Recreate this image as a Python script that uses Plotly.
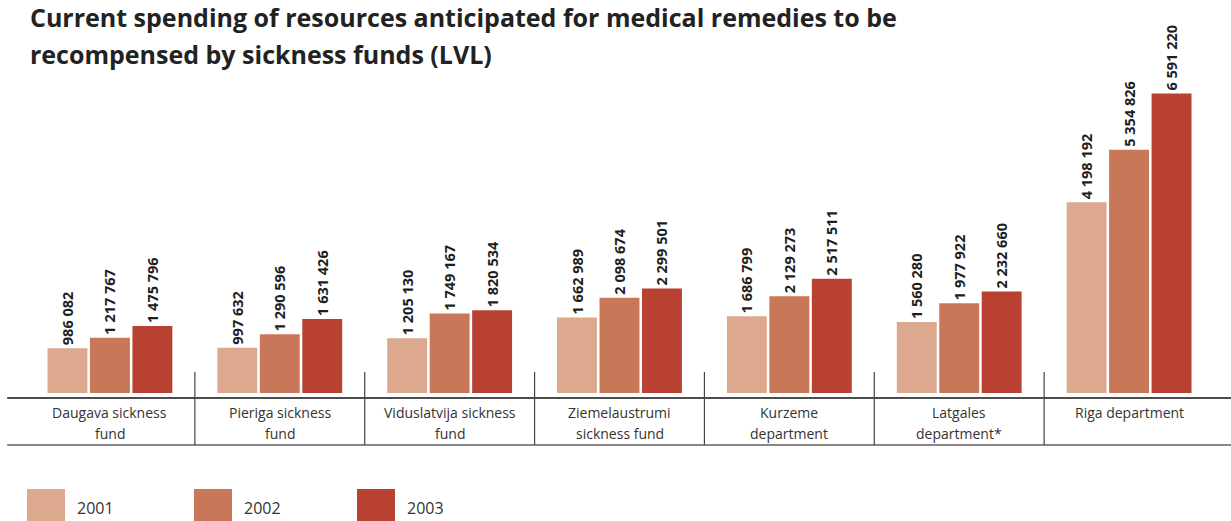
"""
Current spending on medical remedies recompensed by sickness funds
"""
import plotly.graph_objects as go

categories = ["Daugava sickness<br>fund", "Pieriga sickness<br>fund", "Viduslatvija sickness<br>fund",
              "Ziemelaustrumi<br>sickness fund", "Kurzeme<br>department", "Latgales<br>department*",
              "Riga department"]
years = ["2001", "2002", "2003"]
values_2001 = [986082, 997632, 1205130, 1662989, 1686799, 1560280, 4198192]
values_2002 = [1217767, 1290596, 1749167, 2098674, 2129273, 1977922, 5354826]
values_2003 = [1475796, 1631426, 1820534, 2299501, 2517511, 2232660, 6591220]
colors = ["#DCA98F", "#C97759", "#B94131"]

title_lines = ["Current spending of resources anticipated for medical remedies to be",
               "recompensed by sickness funds (LVL)"]

FONT = "Open Sans"
PLOT_H = 318  # plot area height in px


def fmt(v):
    return f"{v:,}".replace(",", " ")


fig = go.Figure()
for year, vals, col in zip(years, [values_2001, values_2002, values_2003], colors):
    fig.add_trace(go.Bar(x=categories, y=vals, name=year, marker_color=col, marker_line_width=0,
                         text=[fmt(v) for v in vals], textposition="outside", textangle=-90,
                         constraintext="none", cliponaxis=False, showlegend=False,
                         textfont=dict(family=FONT, size=14.5, color="#1e1e1e", weight="bold")))

fig.update_layout(
    width=1231, height=521,
    margin=dict(l=25, r=17, t=80, b=123),
    paper_bgcolor="white", plot_bgcolor="white",
    barmode="group", bargap=0.25, bargroupgap=0.06,
    font=dict(family=FONT, color="#333333"),
)
fig.update_xaxes(showline=False, showgrid=False, ticks="", showticklabels=False)
fig.update_yaxes(visible=False, range=[-110000, 6890000])

# axis lines
fig.add_shape(type="line", xref="paper", yref="paper", x0=-0.015, x1=1.02, y0=0, y1=0,
              line=dict(color="#111111", width=1.5))
fig.add_shape(type="line", xref="paper", yref="paper", x0=-0.015, x1=1.02, y0=-47 / PLOT_H, y1=-47 / PLOT_H,
              line=dict(color="#888888", width=2))
# separators between the groups
for i in range(len(categories) - 1):
    fig.add_shape(type="line", xref="x", yref="paper", x0=i + 0.5, x1=i + 0.5, y0=26 / PLOT_H, y1=-47 / PLOT_H,
                  line=dict(color="#444444", width=1.2))

# category labels
for cat in categories:
    for j, part in enumerate(cat.split("<br>")):
        fig.add_annotation(text=part, xref="x", yref="paper", x=cat, y=0, yshift=-14 - 21 * j,
                           xanchor="center", yanchor="middle", showarrow=False,
                           font=dict(family=FONT, size=14, color="#333333"))

# title
for k, line in enumerate(title_lines):
    fig.add_annotation(text=line, xref="paper", yref="paper", x=3 / 1189, y=1.0, yshift=63 - 37 * k,
                       xanchor="left", yanchor="middle", showarrow=False,
                       font=dict(family=FONT, size=25, color="#222222", weight="bold"))

# legend
for k, (year, col) in enumerate(zip(years, colors)):
    x0 = [27, 194, 357][k]
    fig.add_shape(type="rect", xref="paper", yref="paper",
                  x0=(x0 - 25) / 1189, x1=(x0 + 38 - 25) / 1189,
                  y0=(398 - 489) / PLOT_H, y1=(398 - 523) / PLOT_H,
                  line_width=0, fillcolor=col)
    fig.add_annotation(text=year, xref="paper", yref="paper", x=(x0 + 48 - 25) / 1189,
                       y=(398 - 508) / PLOT_H, xanchor="left", yanchor="middle", showarrow=False,
                       font=dict(family=FONT, size=16, color="#333333"))

fig.write_html("out.html", config={"displayModeBar": False},
               post_script="document.body.style.margin='0';")
